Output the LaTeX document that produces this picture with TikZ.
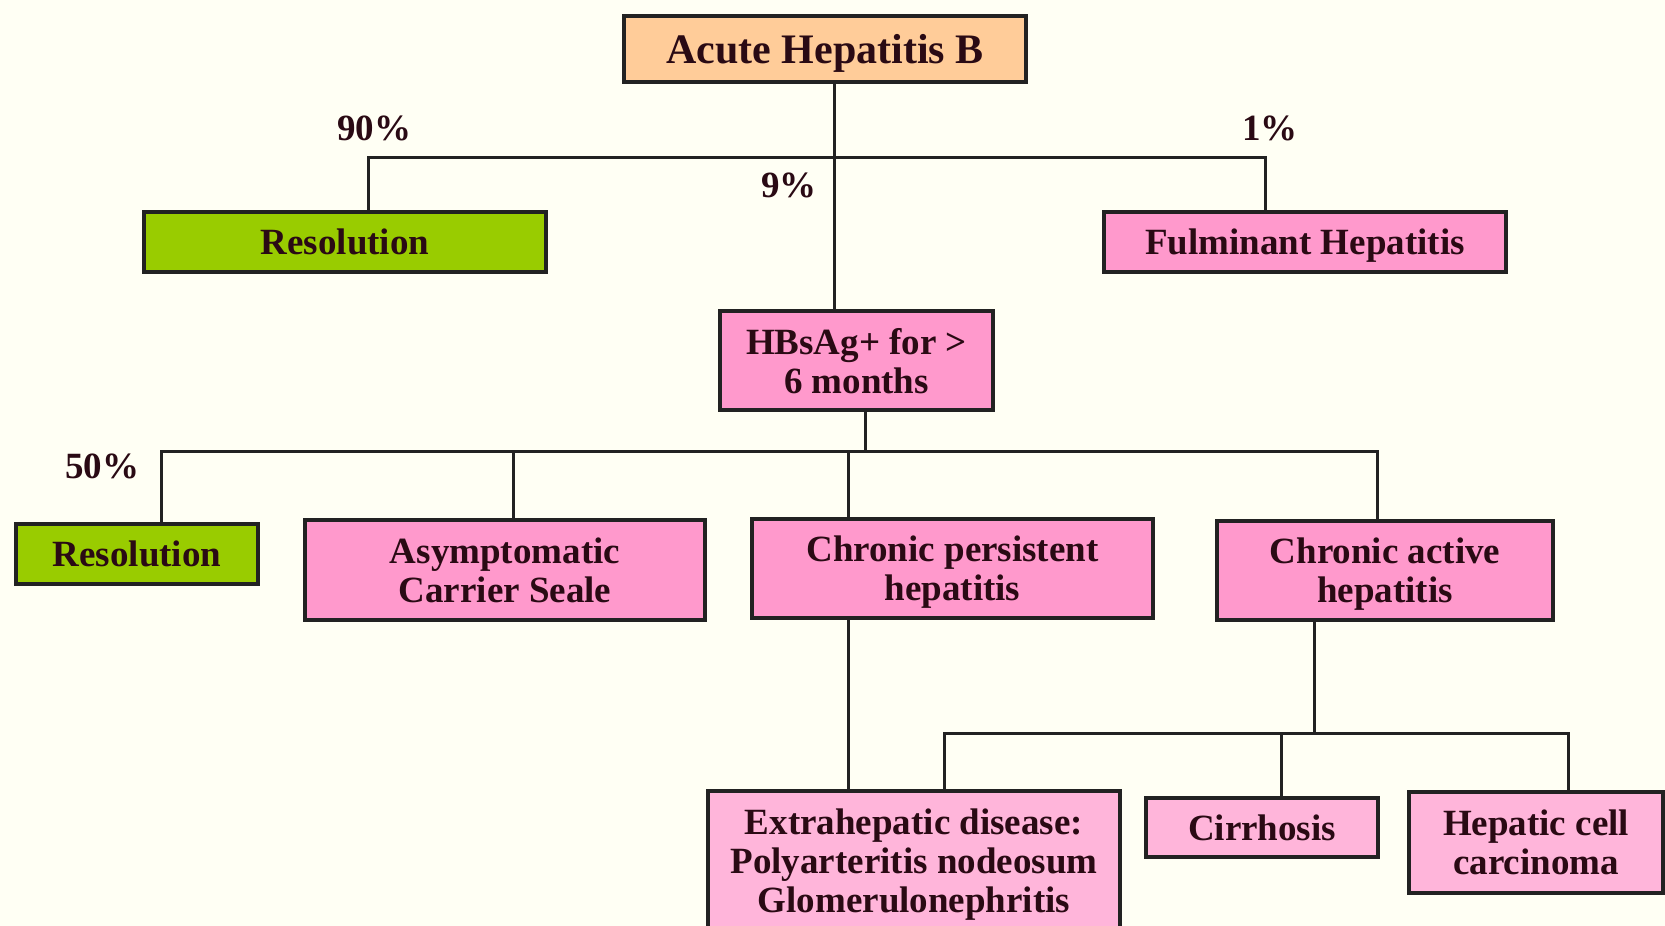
\documentclass[tikz,border=0pt]{standalone}
\usepackage{fontspec}
\setmainfont{Liberation Serif}
\definecolor{bgcol}{HTML}{FFFFF4}
\definecolor{peach}{HTML}{FFCC99}
\definecolor{lgreen}{HTML}{99CC00}
\definecolor{pinkA}{HTML}{FF99CC}
\definecolor{pinkB}{HTML}{FFB5DA}
\definecolor{txtcol}{HTML}{2A0A14}
\definecolor{linecol}{HTML}{222222}
\tikzset{
  box/.style={draw=linecol, line width=3.5pt, rectangle, align=center, inner sep=0pt,
    text depth=0pt, font=\fontsize{37}{39}\selectfont\bfseries, text=txtcol},
  peachbox/.style={box, fill=peach},
  greenbox/.style={box, fill=lgreen},
  pinkbox/.style={box, fill=pinkA},
  lpinkbox/.style={box, fill=pinkB},
  conn/.style={draw=linecol, line width=3pt},
  pct/.style={font=\fontsize{37}{39}\selectfont\bfseries, text=txtcol, inner sep=0pt}
}
\begin{document}
\begin{tikzpicture}[x=1pt,y=-1pt]
\clip (0,0) rectangle (1665,926);
\fill[bgcol] (0,0) rectangle (1665,926);
% boxes
\node[peachbox, minimum width=402pt, minimum height=66pt, font=\fontsize{42}{44}\selectfont\bfseries] (acute) at (825,49) {Acute Hepatitis B};
\node[greenbox, minimum width=402pt, minimum height=60pt] (res1) at (345,242) {Resolution};
\node[pinkbox, minimum width=402pt, minimum height=60pt] (fulm) at (1305,242) {Fulminant Hepatitis};
\node[pinkbox, minimum width=273pt, minimum height=99pt] (hbs) at (856.5,360.5) {HBsAg+ for \textgreater\\6 months};
\node[greenbox, minimum width=242pt, minimum height=60pt] (res2) at (137,554) {Resolution};
\node[pinkbox, minimum width=400pt, minimum height=100pt] (asym) at (505,570) {Asymptomatic\\Carrier Seale};
\node[pinkbox, minimum width=401pt, minimum height=99pt] (cph) at (952.5,568.5) {Chronic persistent\\hepatitis};
\node[pinkbox, minimum width=336pt, minimum height=99pt] (cah) at (1385,570.5) {Chronic active\\hepatitis};
\node[lpinkbox, minimum width=412pt, minimum height=139pt] (extra) at (914,860.5) {Extrahepatic disease:\\Polyarteritis nodeosum\\Glomerulonephritis};
\node[lpinkbox, minimum width=232pt, minimum height=59pt] (cirr) at (1262,827.5) {Cirrhosis};
\node[lpinkbox, minimum width=254pt, minimum height=101pt] (hcc) at (1536,842.5) {Hepatic cell\\carcinoma};
% junction coordinates
\coordinate (j1) at (834,157);
\coordinate (l1) at (368,157);
\coordinate (r1) at (1265,157);
\coordinate (j2) at (865,451);
\coordinate (l2) at (161,451);
\coordinate (m2) at (513,451);
\coordinate (n2) at (848,451);
\coordinate (r2) at (1377,451);
\coordinate (j3) at (1314,733);
\coordinate (l3) at (944,733);
\coordinate (m3) at (1281,733);
\coordinate (r3) at (1568,733);
% connectors
\draw[conn] (acute.south -| j1) -- (hbs.north -| j1);
\draw[conn] (res1.north -| l1) -- (l1) -- (r1) -- (fulm.north -| r1);
\draw[conn] (hbs.south -| j2) -- (j2);
\draw[conn] (res2.north -| l2) -- (l2) -- (r2) -- (cah.north -| r2);
\draw[conn] (asym.north -| m2) -- (m2);
\draw[conn] (cph.north -| n2) -- (n2);
\draw[conn] (cph.south -| n2) -- (extra.north -| n2);
\draw[conn] (cah.south -| j3) -- (j3);
\draw[conn] (extra.north -| l3) -- (l3) -- (r3) -- (hcc.north -| r3);
\draw[conn] (cirr.north -| m3) -- (m3);
% labels
\node[pct] (p90) at (374,128) {90\%};
\node[pct] (p1) at (1270,128) {1\%};
\node[pct] (p9) at (789,185) {9\%};
\node[pct] (p50) at (102,466) {50\%};
\end{tikzpicture}
\end{document}
